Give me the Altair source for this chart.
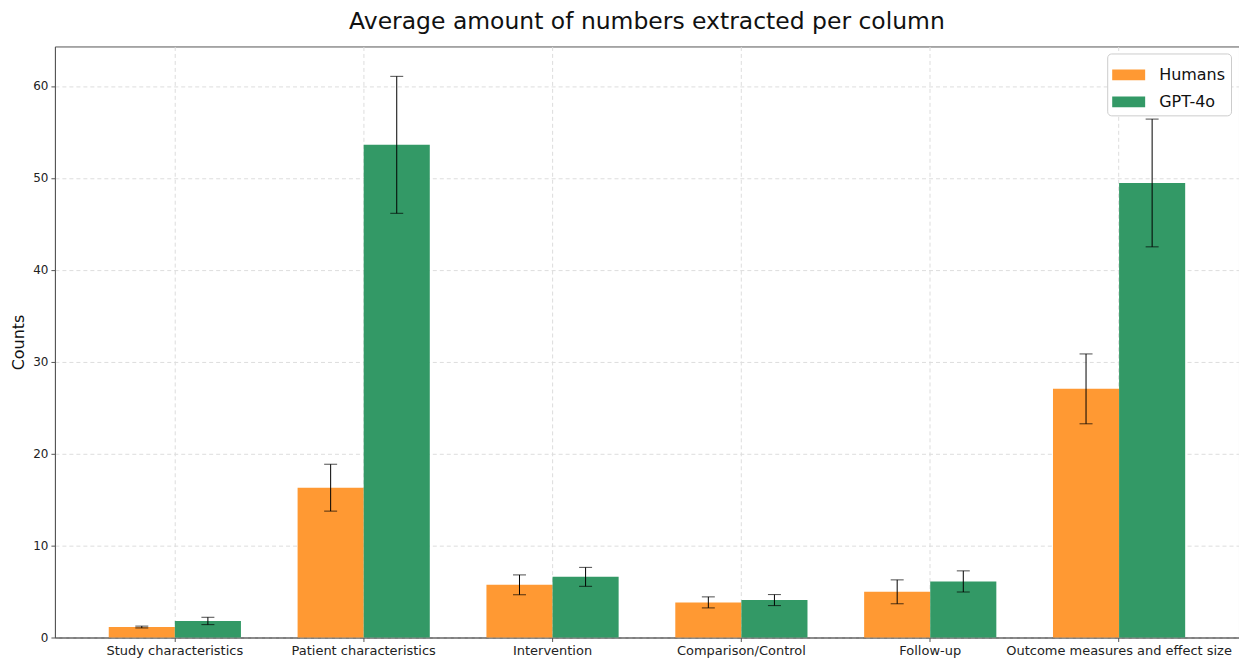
import altair as alt
import pandas as pd

categories = ["Study characteristics", "Patient characteristics", "Intervention",
              "Comparison/Control", "Follow-up", "Outcome measures and effect size"]
series = ["Humans", "GPT-4o"]
humans = [1.14, 16.3, 5.73, 3.82, 4.97, 27.05]
humans_err = [0.1, 2.55, 1.08, 0.6, 1.3, 3.8]
gpt = [1.8, 53.6, 6.6, 4.07, 6.1, 49.45]
gpt_err = [0.4, 7.45, 1.03, 0.6, 1.15, 6.95]
colors = ["#FF9933", "#339966"]

rows = []
for i, c in enumerate(categories):
    rows.append({"cat": c, "series": "Humans", "value": humans[i],
                 "lo": humans[i] - humans_err[i], "hi": humans[i] + humans_err[i]})
    rows.append({"cat": c, "series": "GPT-4o", "value": gpt[i],
                 "lo": gpt[i] - gpt_err[i], "hi": gpt[i] + gpt_err[i]})
df = pd.DataFrame(rows)

FONT = "DejaVu Sans"

x = alt.X("cat:N", sort=categories, title=None,
          scale=alt.Scale(paddingInner=0.3, paddingOuter=0.285),
          axis=alt.Axis(labelAngle=0, labelFontSize=13, labelColor="#222222",
                        labelFont=FONT, grid=True, bandPosition=0.5, labelLimit=400,
                        gridDash=[4, 3], gridColor="#dddddd", tickSize=4,
                        domainColor="#555555", tickColor="#555555", labelPadding=3))
xo = alt.XOffset("series:N", sort=series, scale=alt.Scale(paddingInner=0, paddingOuter=0))
y_scale = alt.Scale(domain=[0, 64.3], nice=False, zero=True)

bars = alt.Chart(df).mark_bar().encode(
    x=x, xOffset=xo,
    y=alt.Y("value:Q", scale=y_scale, title="Counts",
            axis=alt.Axis(values=[0, 10, 20, 30, 40, 50, 60], labelFontSize=12,
                          labelFont=FONT, labelColor="#222222", tickSize=4, labelPadding=3,
                          titleFont=FONT, titleFontSize=16, titleFontWeight="normal",
                          titleColor="#111111", gridDash=[4, 3], gridColor="#dddddd",
                          domainColor="#555555", tickColor="#555555", titlePadding=6)),
    color=alt.Color("series:N", sort=series,
                    scale=alt.Scale(domain=series, range=colors),
                    legend=alt.Legend(title=None, orient="none", legendX=1054, legendY=7,
                                      labelFontSize=16, labelFont=FONT, labelColor="#111111",
                                      symbolType="M-1,-0.33H1V0.33H-1Z", symbolSize=1089,
                                      symbolStrokeWidth=0, rowPadding=2,
                                      strokeColor="#cccccc", fillColor="white",
                                      padding=5, cornerRadius=4, labelOffset=14)),
)

rules = alt.Chart(df).mark_rule(color="black", strokeWidth=1).encode(
    x=x, xOffset=xo,
    y=alt.Y("lo:Q", scale=y_scale), y2="hi:Q",
)
caps_lo = alt.Chart(df).mark_tick(color="black", size=13, thickness=1, orient="horizontal").encode(
    x=x, xOffset=xo, y=alt.Y("lo:Q", scale=y_scale))
caps_hi = alt.Chart(df).mark_tick(color="black", size=13, thickness=1, orient="horizontal").encode(
    x=x, xOffset=xo, y=alt.Y("hi:Q", scale=y_scale))

chart = alt.layer(bars, rules, caps_lo, caps_hi).properties(
    width=1186, height=592,
    padding={"left": 2, "top": 1, "right": 0, "bottom": 0},
    title=alt.TitleParams("Average amount of numbers extracted per column",
                          fontSize=23.5, font=FONT, fontWeight="normal", color="#111111",
                          offset=13),
).configure_view(stroke="#555555", strokeWidth=1)

chart.save("out.html", embed_options={"renderer": "svg", "actions": False})
